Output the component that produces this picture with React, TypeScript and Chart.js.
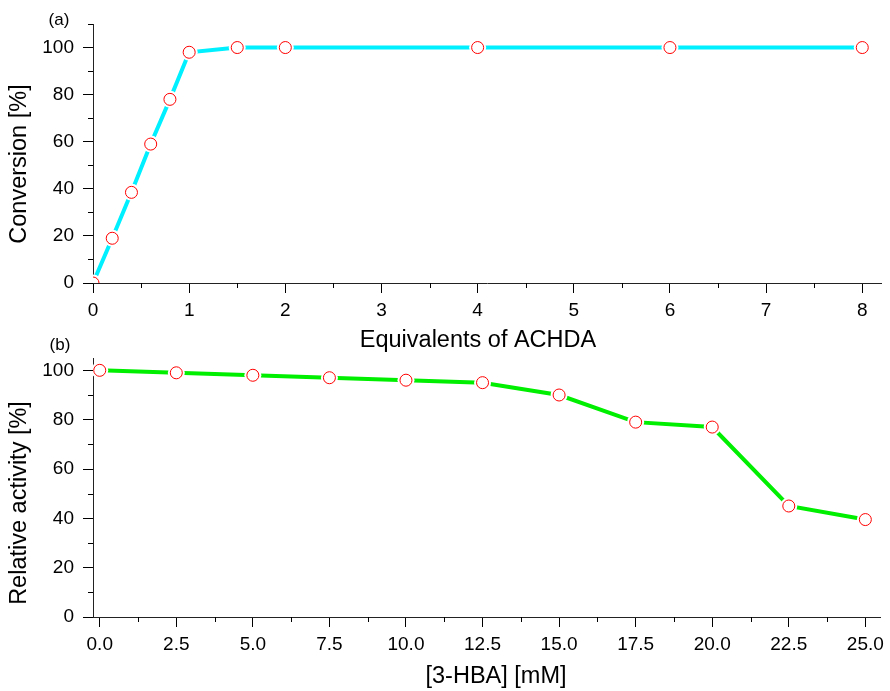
import React, { useEffect, useRef } from 'react';
import { Chart, registerables } from 'chart.js';

Chart.register(...registerables);

// ---- Panel (a) data ----
const equivalents = [0, 0.2, 0.4, 0.6, 0.8, 1, 1.5, 2, 4, 6, 8];
const conversion = [0, 19, 38.5, 59, 78, 98, 100, 100, 100, 100, 100];
const topXMajor = [0, 1, 2, 3, 4, 5, 6, 7, 8];
const topXMinor = [0.5, 1.5, 2.5, 3.5, 4.5, 5.5, 6.5, 7.5];
const topYMajor = [0, 20, 40, 60, 80, 100];
const topYMinor = [10, 30, 50, 70, 90, 110];

// ---- Panel (b) data ----
const hbaConc = [0, 2.5, 5, 7.5, 10, 12.5, 15, 17.5, 20, 22.5, 25];
const relActivity = [100, 99, 98, 97, 96, 95, 90, 79, 77, 45, 39.5];
const botXMajor = [0, 2.5, 5, 7.5, 10, 12.5, 15, 17.5, 20, 22.5, 25];
const botXMinor = [1.25, 3.75, 6.25, 8.75, 11.25, 13.75, 16.25, 18.75, 21.25, 23.75];
const botYMajor = [0, 20, 40, 60, 80, 100];
const botYMinor = [10, 30, 50, 70, 90];

const W = 890;
const H = 691;
const FONT = '"Liberation Sans", Arial, Helvetica, sans-serif';

type PanelCfg = {
  xs: number[];
  ys: number[];
  lineColor: string;
  xMin: number;
  xMax: number;
  yMin: number;
  yMax: number;
  xMajor: number[];
  xMinor: number[];
  yMajor: number[];
  yMinor: number[];
  xDecimals: number;
  areaTop: number;
  areaBottom: number;
  xTitle: string;
  yTitle: string;
  panel: string;
  xTitlePos: [number, number];
  yTitlePos: [number, number];
  panelPos: [number, number];
};

function makeDecor(cfg: PanelCfg) {
  return {
    id: 'decor',
    afterDraw(chart: any) {
      const ctx = chart.ctx as CanvasRenderingContext2D;
      const xs = chart.scales.x;
      const ys = chart.scales.y;
      ctx.save();
      ctx.strokeStyle = '#000';
      ctx.lineWidth = 1;
      ctx.beginPath();
      for (const v of cfg.xMinor) {
        const px = Math.round(xs.getPixelForValue(v)) + 0.5;
        ctx.moveTo(px, ys.bottom);
        ctx.lineTo(px, ys.bottom + 5);
      }
      for (const v of cfg.yMinor) {
        const py = Math.round(ys.getPixelForValue(v)) + 0.5;
        ctx.moveTo(xs.left, py);
        ctx.lineTo(xs.left - 5, py);
      }
      ctx.stroke();

      ctx.fillStyle = '#000';
      ctx.textAlign = 'center';
      ctx.textBaseline = 'middle';
      ctx.font = `23.5px ${FONT}`;
      ctx.fillText(cfg.xTitle, cfg.xTitlePos[0], cfg.xTitlePos[1]);
      ctx.save();
      ctx.translate(cfg.yTitlePos[0], cfg.yTitlePos[1]);
      ctx.rotate(-Math.PI / 2);
      ctx.fillText(cfg.yTitle, 0, 0);
      ctx.restore();
      ctx.font = `17px ${FONT}`;
      ctx.fillText(cfg.panel, cfg.panelPos[0], cfg.panelPos[1]);
      ctx.restore();
    },
  };
}

function Panel({ cfg }: { cfg: PanelCfg }) {
  const ref = useRef<HTMLCanvasElement | null>(null);
  useEffect(() => {
    if (!ref.current) return;
    const pts = cfg.xs.map((x, i) => ({ x, y: cfg.ys[i] }));
    const xAxisH = 40;
    const chart = new Chart(ref.current, {
      type: 'line',
      data: {
        datasets: [
          {
            data: pts,
            showLine: false,
            pointRadius: 6,
            pointBorderWidth: 1,
            pointBorderColor: '#ff0000',
            pointBackgroundColor: '#ffffff',
          },
          {
            data: pts,
            showLine: false,
            pointRadius: 8.5,
            pointBorderWidth: 0,
            pointBorderColor: 'rgba(0,0,0,0)',
            pointBackgroundColor: '#ffffff',
          },
          {
            data: pts,
            borderColor: cfg.lineColor,
            borderWidth: 4,
            pointRadius: 0,
            tension: 0,
            fill: false,
          },
        ],
      } as any,
      options: {
        responsive: false,
        animation: false,
        devicePixelRatio: 1,
        events: [],
        layout: {
          padding: { left: 0, right: 7, top: cfg.areaTop, bottom: H - cfg.areaBottom - xAxisH },
        },
        plugins: { legend: { display: false }, tooltip: { enabled: false } },
        scales: {
          x: {
            type: 'linear',
            min: cfg.xMin,
            max: cfg.xMax,
            z: 1,
            afterFit: (s: any) => {
              s.height = xAxisH;
            },
            afterBuildTicks: (s: any) => {
              s.ticks = cfg.xMajor.map((v) => ({ value: v }));
            },
            grid: {
              drawOnChartArea: false,
              drawTicks: true,
              tickLength: 10,
              tickColor: '#000',
              tickWidth: 1,
            },
            border: { display: true, color: '#222', width: 1 },
            ticks: {
              autoSkip: false,
              maxRotation: 0,
              padding: 6,
              color: '#000',
              font: { family: FONT, size: 19 },
              callback: (v: any) => Number(v).toFixed(cfg.xDecimals),
            },
          },
          y: {
            type: 'linear',
            min: cfg.yMin,
            max: cfg.yMax,
            z: 1,
            afterFit: (s: any) => {
              s.width = 93;
            },
            afterBuildTicks: (s: any) => {
              s.ticks = cfg.yMajor.map((v) => ({ value: v }));
            },
            grid: {
              drawOnChartArea: false,
              drawTicks: true,
              tickLength: 10,
              tickColor: '#000',
              tickWidth: 1,
            },
            border: { display: true, color: '#222', width: 1 },
            ticks: {
              autoSkip: false,
              padding: 9,
              color: '#000',
              font: { family: FONT, size: 19 },
              callback: (v: any) => String(v),
            },
          },
        },
      } as any,
      plugins: [makeDecor(cfg)],
    });
    return () => chart.destroy();
  }, [cfg]);
  return (
    <canvas
      ref={ref}
      width={W}
      height={H}
      style={{ position: 'absolute', left: 0, top: 0, width: W, height: H }}
    />
  );
}

const topCfg: PanelCfg = {
  xs: equivalents,
  ys: conversion,
  lineColor: '#00f0ff',
  xMin: 0,
  xMax: 8.2,
  yMin: 0,
  yMax: 110,
  xMajor: topXMajor,
  xMinor: topXMinor,
  yMajor: topYMajor,
  yMinor: topYMinor,
  xDecimals: 0,
  areaTop: 24,
  areaBottom: 283,
  xTitle: 'Equivalents of ACHDA',
  yTitle: 'Conversion [%]',
  panel: '(a)',
  xTitlePos: [478, 341],
  yTitlePos: [20, 164],
  panelPos: [59, 20],
};

const botCfg: PanelCfg = {
  xs: hbaConc,
  ys: relActivity,
  lineColor: '#00ee00',
  xMin: -0.22,
  xMax: 25.5,
  yMin: 0,
  yMax: 105,
  xMajor: botXMajor,
  xMinor: botXMinor,
  yMajor: botYMajor,
  yMinor: botYMinor,
  xDecimals: 1,
  areaTop: 358,
  areaBottom: 617,
  xTitle: '[3-HBA] [mM]',
  yTitle: 'Relative activity [%]',
  panel: '(b)',
  xTitlePos: [496, 677],
  yTitlePos: [20, 503],
  panelPos: [60, 345],
};

export default function App() {
  return (
    <div style={{ position: 'absolute', left: 0, top: 0, width: W, height: H, background: '#fff' }}>
      <Panel cfg={topCfg} />
      <Panel cfg={botCfg} />
    </div>
  );
}
